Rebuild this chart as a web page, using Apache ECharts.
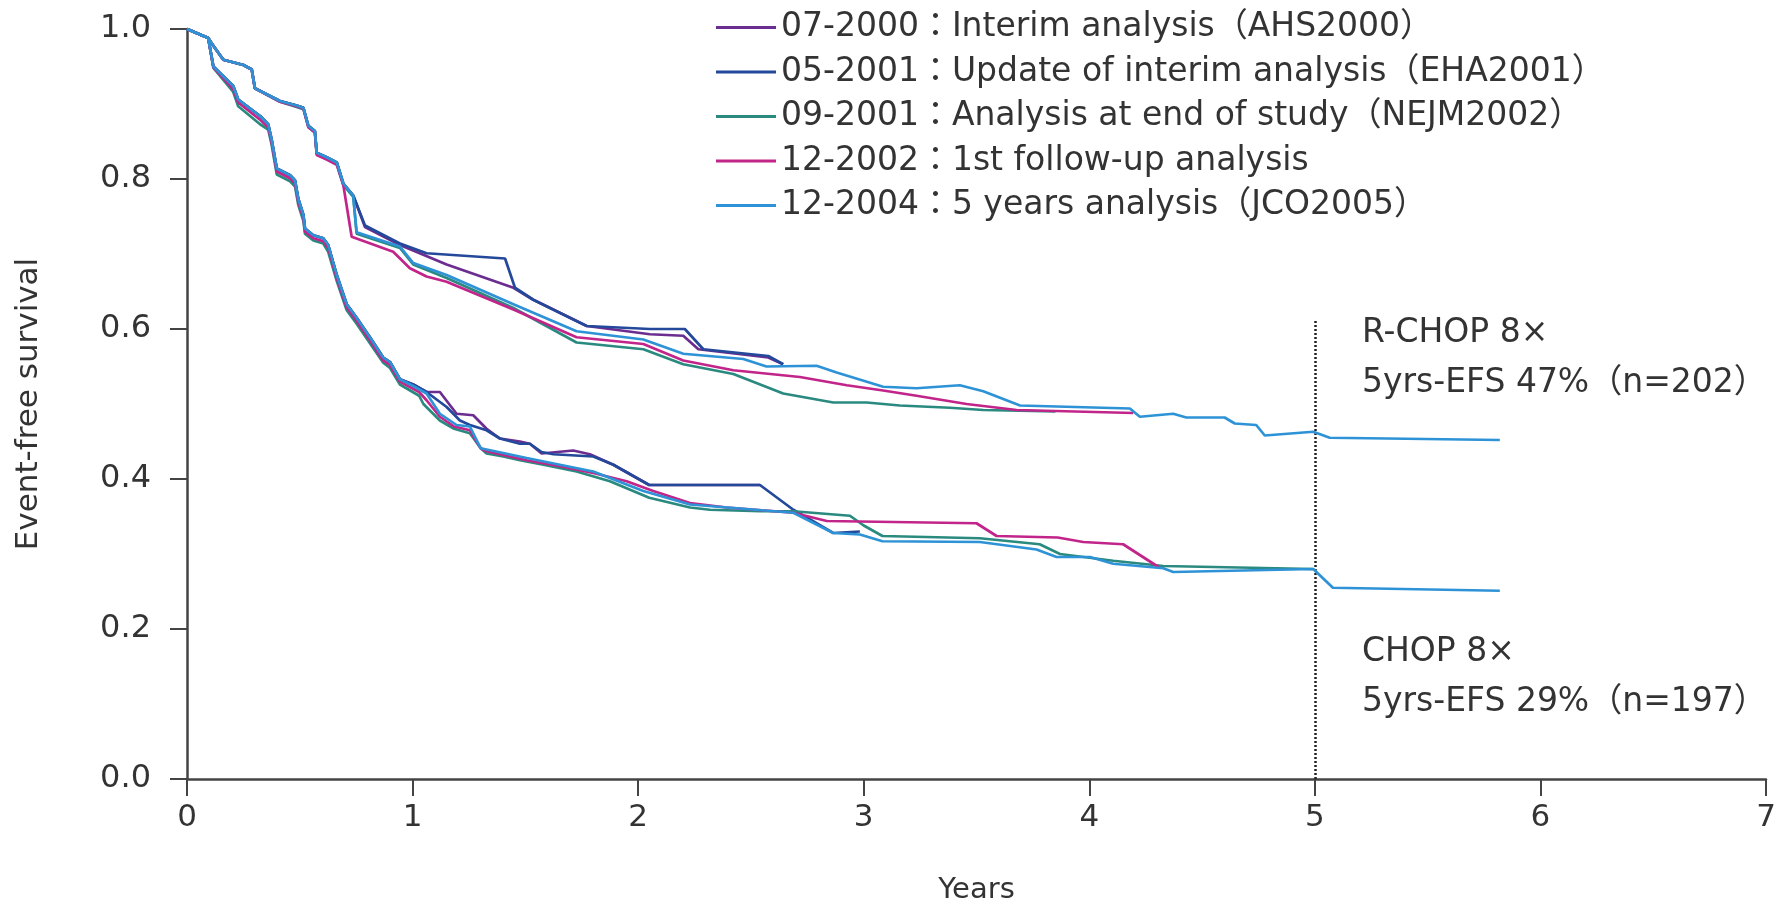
<!DOCTYPE html>
<html>
<head>
<meta charset="utf-8">
<title>Event-free survival</title>
<script src="https://cdn.jsdelivr.net/npm/echarts@6/dist/echarts.min.js"></script>
<style>
  html, body { margin: 0; padding: 0; background: #fff; }
  #main { width: 1791px; height: 910px; }
</style>
</head>
<body>
<div id="main"></div>
<script>
// legend labels, one per analysis date
var versionNames = [
  '07-2000：Interim analysis（AHS2000）',
  '05-2001：Update of interim analysis（EHA2001）',
  '09-2001：Analysis at end of study（NEJM2002）',
  '12-2002：1st follow-up analysis',
  '12-2004：5 years analysis（JCO2005）'
];
var versionColors = ['#6b2d8f', '#24489a', '#2a8a80', '#c2258a', '#2e93d6'];

var xTicks = [0, 1, 2, 3, 4, 5, 6, 7];
var cutoffYear = 5;
var cutoffTop = 0.613;

var annoRchop = ['R-CHOP 8×', '5yrs-EFS 47%（n=202）'];
var annoChop = ['CHOP 8×', '5yrs-EFS 29%（n=197）'];

// R-CHOP arm [years, survival]
var rchop0700 = [[0,1.0],[0.094,0.988],[0.109,0.981],[0.161,0.959],[0.25,0.952],[0.287,0.946],[0.301,0.921],[0.412,0.904],[0.486,0.898],[0.516,0.895],[0.538,0.871],[0.567,0.864],[0.575,0.835],[0.619,0.829],[0.664,0.822],[0.693,0.794],[0.737,0.778],[0.789,0.736],[0.944,0.712],[1.151,0.686],[1.447,0.655],[1.535,0.639],[1.772,0.604],[2.052,0.593],[2.2,0.591],[2.267,0.573],[2.577,0.562],[2.643,0.553]];
var rchop0501 = [[0,1.0],[0.094,0.988],[0.109,0.981],[0.161,0.959],[0.25,0.952],[0.287,0.946],[0.301,0.921],[0.412,0.904],[0.486,0.898],[0.516,0.895],[0.538,0.871],[0.567,0.864],[0.575,0.835],[0.619,0.829],[0.664,0.822],[0.693,0.794],[0.737,0.778],[0.789,0.738],[0.944,0.714],[1.062,0.701],[1.41,0.694],[1.454,0.655],[1.535,0.639],[1.772,0.604],[2.052,0.6],[2.207,0.6],[2.289,0.573],[2.577,0.564],[2.643,0.553]];
var rchop0901 = [[0,1.0],[0.094,0.988],[0.109,0.981],[0.161,0.959],[0.25,0.952],[0.287,0.946],[0.301,0.921],[0.412,0.903],[0.486,0.896],[0.516,0.893],[0.538,0.869],[0.567,0.862],[0.575,0.833],[0.619,0.827],[0.664,0.82],[0.693,0.792],[0.737,0.776],[0.752,0.727],[0.944,0.708],[1.003,0.686],[1.151,0.668],[1.447,0.628],[1.727,0.582],[2.023,0.573],[2.2,0.553],[2.422,0.54],[2.643,0.514],[2.865,0.502],[3.013,0.502],[3.16,0.498],[3.382,0.495],[3.53,0.492],[3.85,0.49]];
var rchop1202 = [[0,1.0],[0.094,0.988],[0.109,0.981],[0.161,0.959],[0.25,0.952],[0.287,0.946],[0.301,0.921],[0.412,0.903],[0.486,0.897],[0.516,0.894],[0.538,0.869],[0.567,0.862],[0.575,0.832],[0.619,0.826],[0.664,0.819],[0.693,0.792],[0.73,0.723],[0.914,0.703],[0.988,0.681],[1.062,0.67],[1.151,0.663],[1.447,0.626],[1.727,0.589],[2.023,0.58],[2.2,0.558],[2.422,0.545],[2.717,0.536],[2.925,0.525],[3.086,0.518],[3.234,0.511],[3.456,0.5],[3.678,0.492],[4.195,0.488]];
var rchop1204 = [[0,1.0],[0.094,0.988],[0.109,0.981],[0.161,0.959],[0.25,0.952],[0.287,0.946],[0.301,0.921],[0.412,0.904],[0.486,0.898],[0.516,0.895],[0.538,0.871],[0.567,0.864],[0.575,0.835],[0.619,0.829],[0.664,0.822],[0.693,0.794],[0.737,0.778],[0.752,0.729],[0.944,0.71],[1.003,0.688],[1.151,0.672],[1.447,0.633],[1.727,0.597],[2.023,0.586],[2.2,0.567],[2.466,0.56],[2.569,0.55],[2.791,0.551],[2.88,0.542],[3.086,0.523],[3.234,0.521],[3.426,0.525],[3.53,0.517],[3.693,0.498],[4.18,0.494],[4.224,0.483],[4.372,0.487],[4.43,0.482],[4.6,0.482],[4.645,0.474],[4.74,0.472],[4.778,0.458],[4.993,0.463],[5.066,0.455],[5.82,0.452]];

// CHOP arm
var chop0700 = [[0,1.0],[0.094,0.988],[0.117,0.95],[0.205,0.924],[0.227,0.906],[0.324,0.884],[0.36,0.873],[0.375,0.853],[0.398,0.814],[0.457,0.805],[0.479,0.798],[0.493,0.774],[0.516,0.752],[0.523,0.734],[0.56,0.725],[0.604,0.721],[0.626,0.712],[0.664,0.672],[0.708,0.633],[0.752,0.615],[0.811,0.589],[0.87,0.562],[0.9,0.556],[0.944,0.533],[1.003,0.526],[1.062,0.516],[1.121,0.516],[1.195,0.487],[1.269,0.485],[1.328,0.467],[1.387,0.454],[1.476,0.45],[1.52,0.447],[1.572,0.434],[1.712,0.438],[1.786,0.433],[1.89,0.419],[2.049,0.392],[2.54,0.392]];
var chop0501 = [[0,1.0],[0.094,0.988],[0.117,0.95],[0.205,0.924],[0.227,0.906],[0.324,0.884],[0.36,0.873],[0.375,0.853],[0.398,0.814],[0.457,0.805],[0.479,0.798],[0.493,0.774],[0.516,0.752],[0.523,0.734],[0.56,0.725],[0.604,0.721],[0.626,0.712],[0.664,0.672],[0.708,0.633],[0.752,0.615],[0.811,0.589],[0.87,0.562],[0.9,0.556],[0.944,0.533],[1.003,0.526],[1.062,0.516],[1.151,0.496],[1.21,0.478],[1.254,0.472],[1.328,0.465],[1.387,0.454],[1.476,0.447],[1.52,0.447],[1.572,0.436],[1.624,0.433],[1.801,0.43],[1.89,0.419],[2.049,0.392],[2.54,0.392],[2.688,0.359],[2.865,0.328],[2.983,0.33]];
var chop0901 = [[0,1.0],[0.094,0.988],[0.117,0.948],[0.205,0.916],[0.227,0.897],[0.324,0.873],[0.36,0.866],[0.375,0.846],[0.398,0.806],[0.457,0.797],[0.479,0.79],[0.493,0.766],[0.516,0.744],[0.523,0.727],[0.56,0.718],[0.604,0.714],[0.626,0.703],[0.664,0.664],[0.708,0.625],[0.752,0.607],[0.811,0.581],[0.87,0.555],[0.9,0.548],[0.944,0.526],[1.029,0.511],[1.048,0.5],[1.121,0.478],[1.184,0.467],[1.254,0.461],[1.302,0.441],[1.328,0.434],[1.402,0.43],[1.476,0.425],[1.58,0.419],[1.727,0.41],[1.875,0.397],[2.049,0.375],[2.23,0.362],[2.318,0.359],[2.54,0.357],[2.688,0.357],[2.939,0.351],[3.0,0.338],[3.083,0.324],[3.515,0.321],[3.78,0.313],[3.87,0.3],[4.106,0.291],[4.328,0.284],[4.993,0.28]];
var chop1202 = [[0,1.0],[0.094,0.988],[0.117,0.949],[0.205,0.92],[0.227,0.902],[0.324,0.879],[0.36,0.869],[0.375,0.849],[0.398,0.81],[0.457,0.801],[0.479,0.794],[0.493,0.77],[0.516,0.748],[0.523,0.73],[0.56,0.721],[0.604,0.717],[0.626,0.708],[0.664,0.668],[0.708,0.629],[0.752,0.611],[0.811,0.585],[0.87,0.558],[0.9,0.552],[0.944,0.53],[1.029,0.516],[1.062,0.505],[1.121,0.483],[1.184,0.47],[1.254,0.465],[1.302,0.441],[1.328,0.437],[1.506,0.425],[1.653,0.417],[1.801,0.408],[1.949,0.397],[2.067,0.384],[2.23,0.368],[2.392,0.362],[2.688,0.355],[2.836,0.344],[3.5,0.341],[3.589,0.324],[3.86,0.322],[3.973,0.316],[4.15,0.313],[4.31,0.282]];
var chop1204 = [[0,1.0],[0.094,0.988],[0.117,0.95],[0.205,0.924],[0.227,0.906],[0.324,0.884],[0.36,0.873],[0.375,0.853],[0.398,0.814],[0.457,0.805],[0.479,0.798],[0.493,0.774],[0.516,0.752],[0.523,0.734],[0.56,0.725],[0.604,0.721],[0.626,0.712],[0.664,0.672],[0.708,0.633],[0.752,0.615],[0.811,0.589],[0.87,0.562],[0.9,0.556],[0.944,0.533],[1.003,0.524],[1.062,0.514],[1.121,0.487],[1.195,0.472],[1.254,0.47],[1.302,0.441],[1.506,0.428],[1.653,0.419],[1.801,0.41],[2.023,0.384],[2.23,0.366],[2.688,0.355],[2.865,0.328],[2.983,0.326],[3.083,0.317],[3.515,0.316],[3.766,0.306],[3.855,0.296],[4.003,0.296],[4.106,0.287],[4.328,0.281],[4.372,0.276],[4.993,0.28],[5.08,0.255],[5.82,0.251]];

var rchopArms = [rchop0700, rchop0501, rchop0901, rchop1202, rchop1204];
var chopArms = [chop0700, chop0501, chop0901, chop1202, chop1204];

var FONT = 'DejaVu Sans, Noto Sans CJK JP, sans-serif';
var TXT = '#333';

var series = [];
for (var i = 0; i < versionNames.length; i++) {
  var arms = [rchopArms[i], chopArms[i]];
  for (var k = 0; k < 2; k++) {
    var s = {
      name: versionNames[i],
      type: 'line',
      data: arms[k],
      showSymbol: false,
      symbol: 'none',
      silent: true,
      z: 2 + i,
      lineStyle: { color: versionColors[i], width: 2.7 },
      itemStyle: { color: versionColors[i] }
    };
    // dotted 5-year marker hangs off the last R-CHOP curve
    if (i === versionNames.length - 1 && k === 0) {
      s.markLine = {
        silent: true,
        symbol: ['none', 'none'],
        label: { show: false },
        lineStyle: { type: [2, 2], color: '#222', width: 2.5 },
        data: [[{ coord: [cutoffYear, 0] }, { coord: [cutoffYear, cutoffTop] }]]
      };
    }
    series.push(s);
  }
}

var annoStyle = function (txt) {
  return { text: txt, fontSize: 33, fontFamily: FONT, fill: TXT, verticalAlign: 'middle' };
};

var chart = echarts.init(document.getElementById('main'));
chart.setOption({
  animation: false,
  backgroundColor: '#fff',
  grid: { left: 187, right: 25, top: 29, bottom: 125, containLabel: false },
  legend: {
    orient: 'vertical',
    left: 711,
    top: 6,
    icon: 'rect',
    itemWidth: 60,
    itemHeight: 3,
    itemGap: 11.5,
    selectedMode: false,
    data: versionNames,
    textStyle: { fontSize: 33, color: TXT, fontFamily: FONT, lineHeight: 33 }
  },
  xAxis: {
    type: 'value',
    min: xTicks[0],
    max: xTicks[xTicks.length - 1],
    interval: 1,
    name: 'Years',
    nameLocation: 'middle',
    nameGap: 97,
    nameTextStyle: { fontSize: 29, color: TXT, fontFamily: FONT },
    axisLine: { show: true, onZero: false, lineStyle: { color: '#444', width: 2.5 } },
    axisTick: { show: true, length: 17, lineStyle: { color: '#444', width: 2 } },
    axisLabel: { fontSize: 31, color: TXT, fontFamily: FONT, margin: 23 },
    splitLine: { show: false }
  },
  yAxis: {
    type: 'value',
    min: 0,
    max: 1,
    interval: 0.2,
    name: 'Event-free survival',
    nameLocation: 'middle',
    nameRotate: 90,
    nameGap: 143,
    nameTextStyle: { fontSize: 31, color: TXT, fontFamily: FONT },
    axisLine: { show: true, lineStyle: { color: '#444', width: 2.5 } },
    axisTick: { show: true, length: 17, lineStyle: { color: '#444', width: 2 } },
    axisLabel: {
      fontSize: 32, color: TXT, fontFamily: FONT, margin: 36,
      formatter: function (v) { return v.toFixed(1); }
    },
    splitLine: { show: false }
  },
  graphic: [
    { type: 'text', x: 1362, y: 333, style: annoStyle(annoRchop[0]) },
    { type: 'text', x: 1362, y: 383, style: annoStyle(annoRchop[1]) },
    { type: 'text', x: 1362, y: 652, style: annoStyle(annoChop[0]) },
    { type: 'text', x: 1362, y: 702, style: annoStyle(annoChop[1]) }
  ],
  series: series
});
</script>
</body>
</html>
